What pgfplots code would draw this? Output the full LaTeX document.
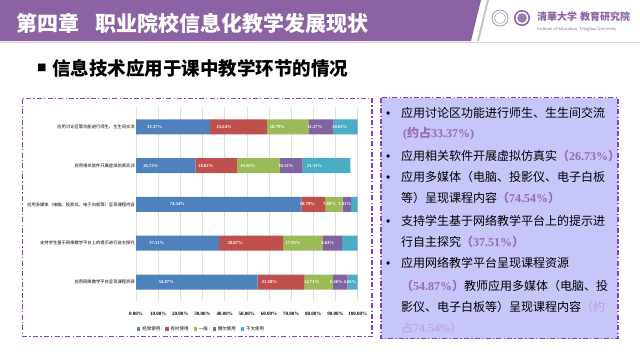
\documentclass[border=0pt]{standalone}
\usepackage{pgfplots}
\pgfplotsset{compat=1.18}
\usepackage{pgfplotstable}
\usepackage{fontspec}
\setmainfont{Liberation Serif}
\newfontfamily\cjk{Noto Sans CJK SC}
\newfontfamily\tnr{Liberation Serif}
\newfontfamily\arial{Liberation Sans}
\definecolor{hdr}{RGB}{139,99,165}
\definecolor{vio}{RGB}{140,60,200}
\definecolor{boxfill}{RGB}{198,198,250}
\definecolor{pct}{RGB}{155,105,175}
\definecolor{pctl}{RGB}{190,160,212}
\definecolor{c1}{RGB}{79,129,189}
\definecolor{c2}{RGB}{192,80,77}
\definecolor{c3}{RGB}{155,187,89}
\definecolor{c4}{RGB}{128,100,162}
\definecolor{c5}{RGB}{75,172,198}
\newcommand{\fs}[1]{\fontsize{#1bp}{#1bp}\selectfont}
\newcommand{\pc}[1]{{\color{pct}\tnr\bfseries #1}}
\newcommand{\pcc}[1]{{\color{pct}\cjk\bfseries #1}}
\newcommand{\pl}[1]{{\color{pctl}\tnr #1}}
\newcommand{\plc}[1]{{\color{pctl}\cjk #1}}

\pgfplotstableread{
row a b c d e
1 33.37 25.64 18.79 11.37 10.83
2 26.73 18.82 19.50 10.13 21.51
3 74.54 10.79 7.89 3.81 2.97
4 37.51 28.87 17.93 8.63 7.07
5 54.87 21.20 12.71 6.56 4.66
}\datatable

\pgfplotsset{
  sqleg/.style={legend image code/.code={\fill[##1] (0bp,-1.6bp) rectangle (3.2bp,1.6bp);}},
}

\begin{document}
\begin{tikzpicture}
\useasboundingbox (0,0) rectangle (640bp,-360bp);
\fill[white] (0,0) rectangle (640bp,-360bp);
\begin{scope}[x=1bp,y=-1bp, every node/.style={inner sep=0pt, anchor=base west}]
  % header
  \fill[hdr] (0,0) -- (481,0) -- (471,41) -- (0,41) -- cycle;
  \draw[gray!45, line width=2bp] (488,0) -- (478,41);
  \draw[gray!30, line width=1bp] (0,42.5) -- (640,42.5);
  \node[text=white] at (16,31.5) {\cjk\bfseries\fs{21}第四章\hspace{16bp}职业院校信息化教学发展现状};
  % logos
  \draw[hdr!70, line width=0.8bp] (500,18) circle (8);
  \draw[hdr!70, line width=0.5bp] (500,18) circle (5.5);
  \fill[hdr] (522,18) circle (8);
  \fill[white] (522,18) circle (6.3);
  \fill[hdr!85] (522,18) circle (4.8);
  \node[text=hdr] at (537,20) {\cjk\bfseries\fs{10}清華大学\hspace{3bp}教育研究院};
  \node[text=hdr] at (537,30) {\tnr\fs{4.6}Institute of Education, Tsinghua University};
  % subtitle
  \node at (37,71.5) {\cjk\fs{9.5}■};
  \node at (52,75) {\cjk\bfseries\fs{18.5}信息技术应用于课中教学环节的情况};
  % boxes
  \draw[vio, line width=1.2bp, dash pattern=on 5bp off 2.2bp on 1.4bp off 2.2bp] (22.5,98.5) rectangle (372,336.5);
  \filldraw[fill=boxfill, draw=vio, line width=1.2bp, dash pattern=on 5bp off 2.2bp on 1.4bp off 2.2bp] (381,97.5) rectangle (618,338.5);
  % right text
  \begin{scope}[every node/.append style={font=\cjk\fs{12}}]
  \node at (386,117.5) {\arial •};
  \node at (401,117.5) {应用讨论区功能进行师生、生生间交流};
  \node at (403,137.5) {\pc{(}\pcc{约占}\pc{33.37\%)}};
  \node at (386,160.5) {\arial •};
  \node at (401,160.5) {应用相关软件开展虚拟仿真实\pcc{（}\pc{26.73\%}\pcc{）}};
  \node at (386,181.5) {\arial •};
  \node at (401,181.5) {应用多媒体（电脑、投影仪、电子白板};
  \node at (401,202.5) {等）呈现课程内容\pcc{（}\pc{74.54\%}\pcc{）}};
  \node at (386,225.5) {\arial •};
  \node at (401,225.5) {支持学生基于网络教学平台上的提示进};
  \node at (401,246.5) {行自主探究\pcc{（}\pc{37.51\%}\pcc{）}};
  \node at (386,267.5) {\arial •};
  \node at (401,267.5) {应用网络教学平台呈现课程资源};
  \node at (401,290.5) {\pcc{（}\pc{54.87\%}\pcc{）}教师应用多媒体（电脑、投};
  \node at (401,311.5) {影仪、电子白板等）呈现课程内容\plc{（约}};
  \node at (401,332.5) {\plc{占}\pl{74.54\%}\plc{）}};
  \end{scope}
\end{scope}

\begin{axis}[
  at={(136bp,-301.4bp)}, anchor=south west,
  scale only axis, width=221.7bp, height=194bp,
  xbar stacked, bar width=15bp,
  enlargelimits=false,
  xmin=0, xmax=100, ymin=0.5, ymax=5.5, y dir=reverse,
  ytick={1,2,3,4,5},
  yticklabels={应用讨论区等功能进行师生、生生间交流,应用相关软件开展虚拟仿真实训,应用多媒体（电脑、投影仪、电子白板等）呈现课程内容,支持学生基于网络教学平台上的提示进行自主探究,应用网络教学平台呈现课程资源},
  xtick={0,10,20,30,40,50,60,70,80,90,100},
  xticklabels={0.00\%,10.00\%,20.00\%,30.00\%,40.00\%,50.00\%,60.00\%,70.00\%,80.00\%,90.00\%,100.00\%},
  xmajorgrids, grid style={draw=gray!25, line width=0.6bp},
  axis x line*=bottom, axis y line*=left,
  axis line style={draw=none}, major tick length=0pt,
  yticklabel style={font=\cjk\fs{4.3}, inner sep=1bp},
  xticklabel style={font=\tnr\bfseries\fs{5}, yshift=-7bp},
  visualization depends on=rawx \as \rawx,
  nodes near coords={\pgfmathparse{\rawx<3 ? 0 : 1}\ifnum\pgfmathresult>0 \pgfmathprintnumber[fixed,fixed zerofill,precision=2,assume math mode=true]{\rawx}\%\fi},
  every node near coord/.append style={text=white, font=\tnr\bfseries\fs{4.6}, inner sep=0pt, shift={(axis direction cs:-\rawx/4,0)}},
  legend columns=5,
  legend style={at={(axis description cs:0,0)}, anchor=west, xshift=1bp, yshift=-27.6bp, draw=none, fill=none, inner sep=0pt, font=\cjk\fs{4.5}, /tikz/every even column/.append style={column sep=3bp}},
]
\addplot[fill=c1, draw=none, sqleg, every node near coord/.append style={anchor=center}] table[x=a,y=row]{\datatable};
\addplot[fill=c2, draw=none, sqleg, every node near coord/.append style={anchor=center}] table[x=b,y=row]{\datatable};
\addplot[fill=c3, draw=none, sqleg, every node near coord/.append style={anchor=center}] table[x=c,y=row]{\datatable};
\addplot[fill=c4, draw=none, sqleg, every node near coord/.append style={anchor=center}] table[x=d,y=row]{\datatable};
\addplot[fill=c5, draw=none, sqleg, every node near coord/.append style={anchor=center}] table[x=e,y=row]{\datatable};
\legend{经常使用,有时使用,一般,偶尔使用,不太使用}
\end{axis}
\end{tikzpicture}
\end{document}
